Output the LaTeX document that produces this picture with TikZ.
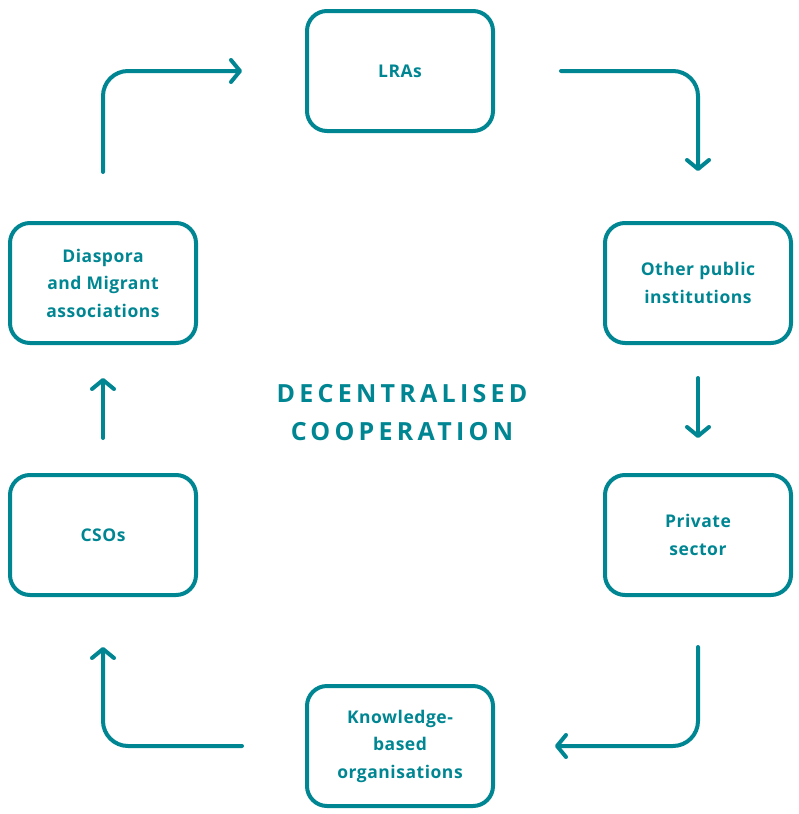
\documentclass[tikz,border=0pt]{standalone}
\usepackage{fontspec}
\setmainfont{Open Sans}
\usetikzlibrary{arrows.meta}
\definecolor{teal}{RGB}{0,134,146}
\begin{document}
\begin{tikzpicture}[x=1pt,y=-1pt,
  actor/.style={draw=teal, line width=4pt, rounded corners=20pt,
    minimum width=186pt, minimum height=120pt, align=center,
    text=teal, font=\fontsize{17.5}{27.5}\selectfont\bfseries\addfontfeature{LetterSpace=3}},
  flow/.style={draw=teal, line width=4pt, line cap=round, rounded corners=25pt,
    -{Straight Barb[length=9pt,width=22pt,round]}}
]
\useasboundingbox (0,0) rectangle (798,814);

\node[actor] (lra) at (400,71) {LRAs};
\node[actor] (opi) at (698,283) {Other public\\institutions};
\node[actor] (prv) at (698,535) {Private\\sector};
\node[actor] (kbo) at (400,746) {Knowledge-\\based\\organisations};
\node[actor] (cso) at (103,535) {CSOs};
\node[actor] (dia) at (103,283) {Diaspora\\and Migrant\\associations};

\node[text=teal, align=center,
  font=\fontsize{25}{38}\selectfont\bfseries\addfontfeature{LetterSpace=17}]
  (title) at (402,413) {DECENTRALISED\\COOPERATION};

\draw[flow, shorten <=49pt, shorten >=63pt] (dia.north) |- (lra.west);
\draw[flow, shorten <=66pt, shorten >=50pt] (lra.east) -| (opi.north);
\draw[flow, shorten <=33pt, shorten >=35pt] (opi.south) -- (prv.north);
\draw[flow, shorten <=50pt, shorten >=60pt] (prv.south) |- (kbo.east);
\draw[flow, shorten <=63pt, shorten >=50pt] (kbo.west) -| (cso.south);
\draw[flow, shorten <=35pt, shorten >=33pt] (cso.north) -- (dia.south);
\end{tikzpicture}
\end{document}
